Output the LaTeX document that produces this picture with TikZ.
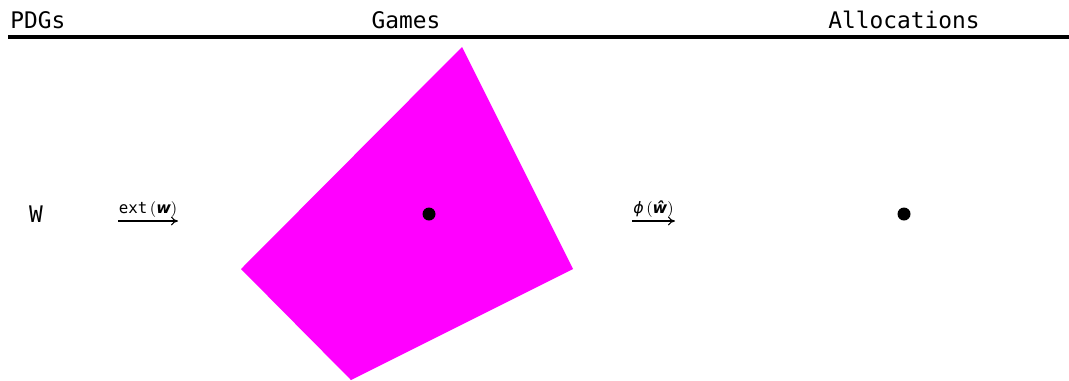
\documentclass[tikz,border=0pt]{standalone}
\usepackage{amsmath,amssymb}
\usepackage{fontspec}
\usepackage{tikz}
\usetikzlibrary{positioning,arrows.meta}
\newfontfamily\monofont{DejaVu Sans Mono}
\newfontfamily\labelsans{DejaVu Sans}
\definecolor{gameMagenta}{HTML}{FF00FF}

\begin{document}
\begin{tikzpicture}[
    x=0.02cm, y=-0.02cm,
    header/.style={font=\monofont\fontsize{13}{15}\selectfont, inner sep=0pt},
    maplabel/.style={font=\fontsize{9}{11}\selectfont, inner sep=1pt},
    maparrow/.style={-{To[length=4pt,width=5pt]}, semithick},
    point/.style={circle, fill=black, inner sep=0pt, minimum size=0.26cm}
  ]
  \useasboundingbox (0,0) rectangle (1069,380);

  % column headers
  \node[header, anchor=base west] (pdgs)  at (10,28)  {PDGs};
  \node[header, anchor=base]      (games) at (406,28) {Games};
  \node[header, anchor=base west] (alloc) at (828,28) {Allocations};
  \draw[line width=2pt] (8,37) -- (1069,37);

  % the game polytope
  \fill[gameMagenta] (462,47) -- (573,269) -- (351,380) -- (241,269) -- cycle;

  \node[header] (w) at (36,214) {W};
  \node[point] (g) at (429,214) {};
  \node[point] (a) at (904,214) {};

  % maps
  \coordinate (e1) at (118,221);
  \coordinate (e2) at (178,221);
  \draw[maparrow] (e1) -- (e2) node[midway, above=1pt, maplabel] {{\monofont ext}\,({\labelsans\bfseries\itshape w})};
  \coordinate (p1) at (632,221);
  \coordinate (p2) at (675,221);
  \draw[maparrow] (p1) -- (p2) node[midway, above=1pt, maplabel] {{\labelsans\itshape ϕ}\,({\labelsans\bfseries\itshape ŵ})};
\end{tikzpicture}
\end{document}
